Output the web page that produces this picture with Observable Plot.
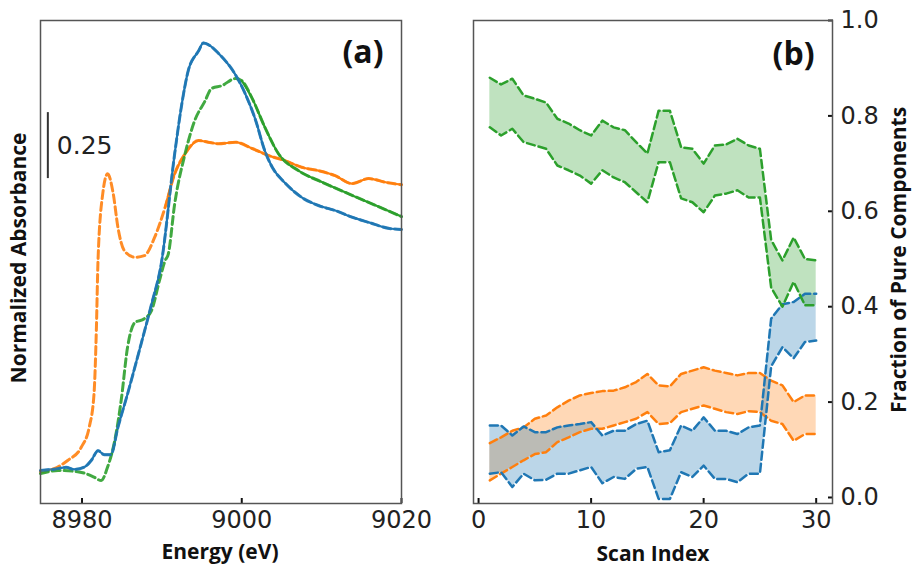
<!DOCTYPE html>
<html>
<head>
<meta charset="utf-8">
<script src="https://cdn.jsdelivr.net/npm/d3@7"></script>
<script src="https://cdn.jsdelivr.net/npm/@observablehq/plot@0.6"></script>
<style>
  body { margin: 0; background: #fff; }
  #wrap { position: relative; width: 912px; height: 566px; background: #fff; overflow: hidden; }
  .panel { position: absolute; top: 0; }
  .lab { position: absolute; font-family: "Open Sans", sans-serif; font-weight: bold; font-size: 21px; color: #111; white-space: nowrap; transform: translate(-50%, -50%); }
  .rot { transform: translate(-50%, -50%) rotate(-90deg); }
</style>
</head>
<body>
<div id="wrap">
  <div id="pa" class="panel" style="left:0"></div>
  <div id="pb" class="panel" style="left:440px"></div>
  <div class="lab rot" style="left:18px; top:258px;">Normalized Absorbance</div>
  <div class="lab" style="left:220px; top:551px;">Energy (eV)</div>
  <div class="lab" style="left:653px; top:553px;">Scan Index</div>
  <div class="lab rot" style="left:898px; top:260px;">Fraction of Pure Components</div>
</div>
<script>
// ---------- Panel (a): spectra ----------
const blueE = [8974.8, 8976.5, 8978.0, 8979.0, 8980.3, 8981.2, 8982.0, 8982.8, 8983.6, 8984.5, 8985.7, 8987.4, 8988.7, 8989.9, 8991.6, 8992.5, 8993.3, 8994.6, 8995.2, 8996.0, 8997.1, 8999.2, 9000.4, 9001.7, 9002.9, 9003.8, 9005.4, 9007.5, 9009.6, 9011.7, 9013.8, 9015.9, 9018.5, 9020.0];
const blueA = [0.0, 0.005, 0.012, 0.004, 0.013, 0.04, 0.075, 0.06, 0.06, 0.164, 0.29, 0.48, 0.63, 0.78, 1.20, 1.39, 1.515, 1.59, 1.62, 1.61, 1.58, 1.50, 1.43, 1.33, 1.21, 1.15, 1.09, 1.035, 1.004, 0.985, 0.96, 0.94, 0.917, 0.913];

const greenE = [8974.8, 8977.0, 8979.0, 8980.5, 8981.5, 8982.4, 8983.2, 8984.1, 8984.9, 8985.7, 8986.6, 8987.8, 8988.7, 8989.7, 8990.4, 8990.8, 8991.6, 8992.9, 8994.1, 8995.4, 8996.2, 8997.5, 8999.2, 9000.0, 9001.3, 9002.9, 9004.6, 9007.1, 9010.1, 9013.4, 9016.8, 9020.0];
const greenA = [-0.012, 0.0, -0.003, -0.012, -0.025, -0.038, 0.013, 0.114, 0.265, 0.467, 0.56, 0.575, 0.606, 0.72, 0.795, 0.82, 1.01, 1.20, 1.325, 1.40, 1.447, 1.458, 1.485, 1.477, 1.41, 1.30, 1.20, 1.136, 1.092, 1.048, 1.004, 0.962];

const orangeE = [8974.8, 8976.5, 8978.2, 8979.9, 8980.9, 8981.5, 8981.8, 8982.0, 8982.6, 8983.2, 8983.9, 8984.5, 8985.3, 8986.6, 8987.8, 8989.1, 8990.4, 8991.6, 8992.9, 8994.6, 8995.8, 8997.1, 8999.2, 9001.3, 9003.4, 9005.4, 9007.5, 9009.6, 9011.7, 9013.8, 9015.9, 9018.0, 9020.0];
const orangeA = [-0.005, 0.007, 0.038, 0.088, 0.164, 0.29, 0.54, 0.795, 1.05, 1.124, 1.05, 0.92, 0.833, 0.808, 0.814, 0.884, 0.997, 1.124, 1.20, 1.25, 1.244, 1.238, 1.244, 1.22, 1.193, 1.174, 1.149, 1.136, 1.117, 1.087, 1.106, 1.092, 1.083];

// energy from which the solid (measured) trace is visible for each component
const solidFrom = { blue: 8974.8, orange: 8990.0, green: 9000.0 };

const energyTicks = [8980, 9000, 9020];
const scaleBar = { energy: 8975.72, base: 1.106, length: 0.25, label: "0.25" };

// ---------- Panel (b): fractions ----------
const scanIndex = [1,2,3,4,5,6,7,8,9,10,11,12,13,14,15,16,17,18,19,20,21,22,23,24,25,26,27,28,29,30];
const greenUpper = [0.88,0.866,0.878,0.843,0.836,0.828,0.794,0.784,0.77,0.759,0.79,0.776,0.77,0.745,0.721,0.811,0.811,0.734,0.731,0.70,0.738,0.74,0.752,0.738,0.731,0.54,0.497,0.545,0.50,0.497];
const greenLower = [0.776,0.759,0.773,0.745,0.738,0.731,0.696,0.686,0.675,0.658,0.686,0.671,0.661,0.64,0.619,0.703,0.703,0.627,0.619,0.598,0.633,0.637,0.644,0.629,0.629,0.44,0.40,0.452,0.403,0.403];
const blueUpper = [0.151,0.151,0.130,0.149,0.137,0.137,0.147,0.151,0.154,0.158,0.130,0.140,0.140,0.154,0.161,0.095,0.099,0.151,0.140,0.168,0.140,0.140,0.133,0.147,0.151,0.375,0.405,0.41,0.427,0.427];
const blueLower = [0.050,0.053,0.022,0.050,0.036,0.037,0.050,0.050,0.057,0.064,0.030,0.043,0.039,0.060,0.064,-0.003,-0.003,0.053,0.043,0.067,0.039,0.039,0.032,0.050,0.050,0.275,0.315,0.292,0.326,0.329];
const orangeUpper = [0.114,0.126,0.140,0.147,0.165,0.172,0.189,0.203,0.214,0.219,0.223,0.224,0.231,0.242,0.259,0.235,0.233,0.259,0.266,0.273,0.266,0.261,0.256,0.261,0.261,0.245,0.235,0.200,0.214,0.214];
const orangeLower = [0.036,0.050,0.064,0.078,0.091,0.095,0.116,0.126,0.137,0.144,0.144,0.151,0.158,0.165,0.179,0.154,0.156,0.179,0.186,0.193,0.186,0.179,0.175,0.181,0.179,0.161,0.154,0.119,0.133,0.133];
const scanTicks = [0, 10, 20, 30];
const fracTicks = [0, 0.2, 0.4, 0.6, 0.8, 1.0];

const C = { blue: "#1f77b4", orange: "#ff7f0e", green: "#2ca02c" };

const spectra = [
  { key: "orange", E: orangeE, A: orangeA },
  { key: "green", E: greenE, A: greenA },
  { key: "blue", E: blueE, A: blueA }
].map(s => ({ key: s.key, pts: s.E.map((e, i) => ({ e, a: s.A[i] })) }));

const plotStyle = { fontFamily: "DejaVu Sans, sans-serif", fontSize: "24px", color: "#222", background: "transparent", overflow: "visible" };

const marksA = [];
for (const s of spectra) {
  marksA.push(Plot.line(s.pts.filter(d => d.e >= solidFrom[s.key]), { x: "e", y: "a", stroke: C[s.key], strokeWidth: 2.2, curve: "monotone-x" }));
}
for (const s of spectra) {
  marksA.push(Plot.line(s.pts, { x: "e", y: "a", stroke: C[s.key], strokeWidth: 3, strokeDasharray: "8,4", strokeOpacity: 0.9, curve: "monotone-x" }));
}

const pa = Plot.plot({
  width: 440, height: 566,
  marginLeft: 40, marginRight: 39, marginTop: 20, marginBottom: 63,
  style: plotStyle,
  x: { domain: [8974.8, 9020], axis: null },
  y: { domain: [-0.125, 1.705], axis: null },
  marks: [
    ...marksA,
    Plot.ruleX([scaleBar], { x: "energy", y1: "base", y2: d => d.base + d.length, stroke: "#333", strokeWidth: 2 }),
    Plot.text([scaleBar], { x: "energy", y: d => d.base + d.length / 2, text: "label", dx: 9, textAnchor: "start", fontSize: 25, fill: "#222" }),
    Plot.text(["(a)"], { frameAnchor: "top-right", dx: -18, dy: 20, fontSize: 32, fontWeight: "bold", fontFamily: "Open Sans, sans-serif", fill: "#111" }),
    Plot.axisX({ ticks: energyTicks, tickFormat: d3.format("d"), tickSize: -5, tickPadding: 12, label: null, stroke: "#111", strokeWidth: 2 }),
    Plot.frame({ stroke: "#555", strokeWidth: 1.5 })
  ]
});
document.getElementById("pa").appendChild(pa);

const band = (lo, hi) => scanIndex.map((i, k) => ({ i, lo: lo[k], hi: hi[k] }));
const bands = [
  { key: "orange", d: band(orangeLower, orangeUpper) },
  { key: "blue", d: band(blueLower, blueUpper) },
  { key: "green", d: band(greenLower, greenUpper) }
];
const marksB = [];
for (const b of bands) marksB.push(Plot.areaY(b.d, { x: "i", y1: "lo", y2: "hi", fill: C[b.key], fillOpacity: 0.3 }));
for (const b of bands) {
  marksB.push(Plot.line(b.d, { x: "i", y: "lo", stroke: C[b.key], strokeWidth: 2.5, strokeDasharray: "8,4" }));
  marksB.push(Plot.line(b.d, { x: "i", y: "hi", stroke: C[b.key], strokeWidth: 2.5, strokeDasharray: "8,4" }));
}

const pb = Plot.plot({
  width: 472, height: 566,
  marginLeft: 33, marginRight: 80, marginTop: 20, marginBottom: 63,
  style: plotStyle,
  x: { domain: [-0.45, 31.45], axis: null },
  y: { domain: [-0.0126, 1.0], axis: null },
  marks: [
    ...marksB,
    Plot.text(["(b)"], { frameAnchor: "top-right", dx: -18, dy: 22, fontSize: 32, fontWeight: "bold", fontFamily: "Open Sans, sans-serif", fill: "#111" }),
    Plot.axisX({ ticks: scanTicks, tickFormat: d3.format("d"), tickSize: -5, tickPadding: 12, label: null, stroke: "#111", strokeWidth: 2 }),
    Plot.axisY({ anchor: "right", ticks: fracTicks, tickFormat: d3.format(".1f"), tickSize: -5, tickPadding: 13, label: null, stroke: "#111", strokeWidth: 2 }),
    Plot.frame({ stroke: "#555", strokeWidth: 1.5 })
  ]
});
document.getElementById("pb").appendChild(pb);
</script>
</body>
</html>
